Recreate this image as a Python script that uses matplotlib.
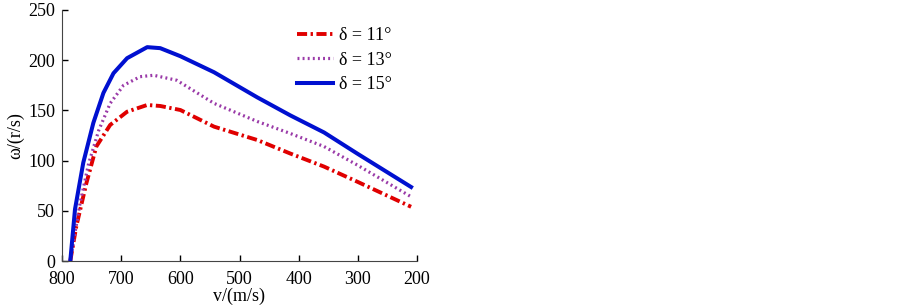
import matplotlib
matplotlib.use("Agg")
import matplotlib.pyplot as plt

v_15 = [786, 778, 764, 747, 730, 713, 690, 656, 634, 600, 543, 470, 414, 357, 301, 210]
w_15 = [0, 51.6, 98, 137.6, 167.4, 187, 202, 213, 212, 204, 188, 163, 145, 128, 107, 73.7]

v_13 = [786, 781, 769.5, 755, 738, 718.6, 696, 668, 645, 606, 543, 470, 414, 357, 301, 210]
w_13 = [0, 17.6, 57.5, 97, 130, 157, 175, 183.6, 185, 180, 157, 139, 127, 114, 95.6, 64]

v_11 = [786, 776, 759, 742, 718.6, 690, 656, 634, 600, 543, 470, 414, 357, 301, 210]
w_11 = [0, 34, 77, 114, 135.5, 148.7, 155.4, 154.4, 150.4, 133.8, 120.5, 107, 94, 79, 54]

x_ticks = [800, 700, 600, 500, 400, 300, 200]
y_ticks = [0, 50, 100, 150, 200, 250]

plt.rcParams['font.family'] = ['Liberation Serif', 'DejaVu Serif']
plt.rcParams['font.size'] = 13

fig = plt.figure(figsize=(9.03, 3.07), dpi=100)
ax = fig.add_axes([62 / 903, 46 / 307, 355 / 903, 251 / 307])

ax.plot(v_11, w_11, color='#e00000', linestyle=(0, (2.6, 0.9, 0.6, 0.9)), linewidth=2.8,
        label='δ = 11°')
ax.plot(v_13, w_13, color='#9a3aa8', linestyle=(0, (0.6, 1.0)), linewidth=2.3,
        label='δ = 13°')
ax.plot(v_15, w_15, color='#0010d0', linestyle='-', linewidth=2.9,
        label='δ = 15°')

ax.set_xlim(800, 200)
ax.set_ylim(0, 250)
ax.set_xticks(x_ticks)
ax.set_yticks(y_ticks)
ax.tick_params(direction='in', length=4, width=1, labelsize=13, colors='black')
ax.tick_params(axis='x', pad=7)
ax.tick_params(axis='y', pad=5)
for s in ['top', 'right']:
    ax.spines[s].set_visible(False)
for s in ['left', 'bottom']:
    ax.spines[s].set_color('#444444')

ax.set_xlabel('v/(m/s)', fontsize=13, labelpad=0)
ax.set_ylabel('ω/(r/s)', fontsize=13, labelpad=3)

fig.legend(loc='upper left', bbox_to_anchor=(297 / 903, 1 - 27 / 307),
           frameon=False, borderpad=0, borderaxespad=0, handlelength=2.0,
           handletextpad=0.3, labelspacing=0.42, fontsize=13)

fig.savefig('out.png', dpi=100)
